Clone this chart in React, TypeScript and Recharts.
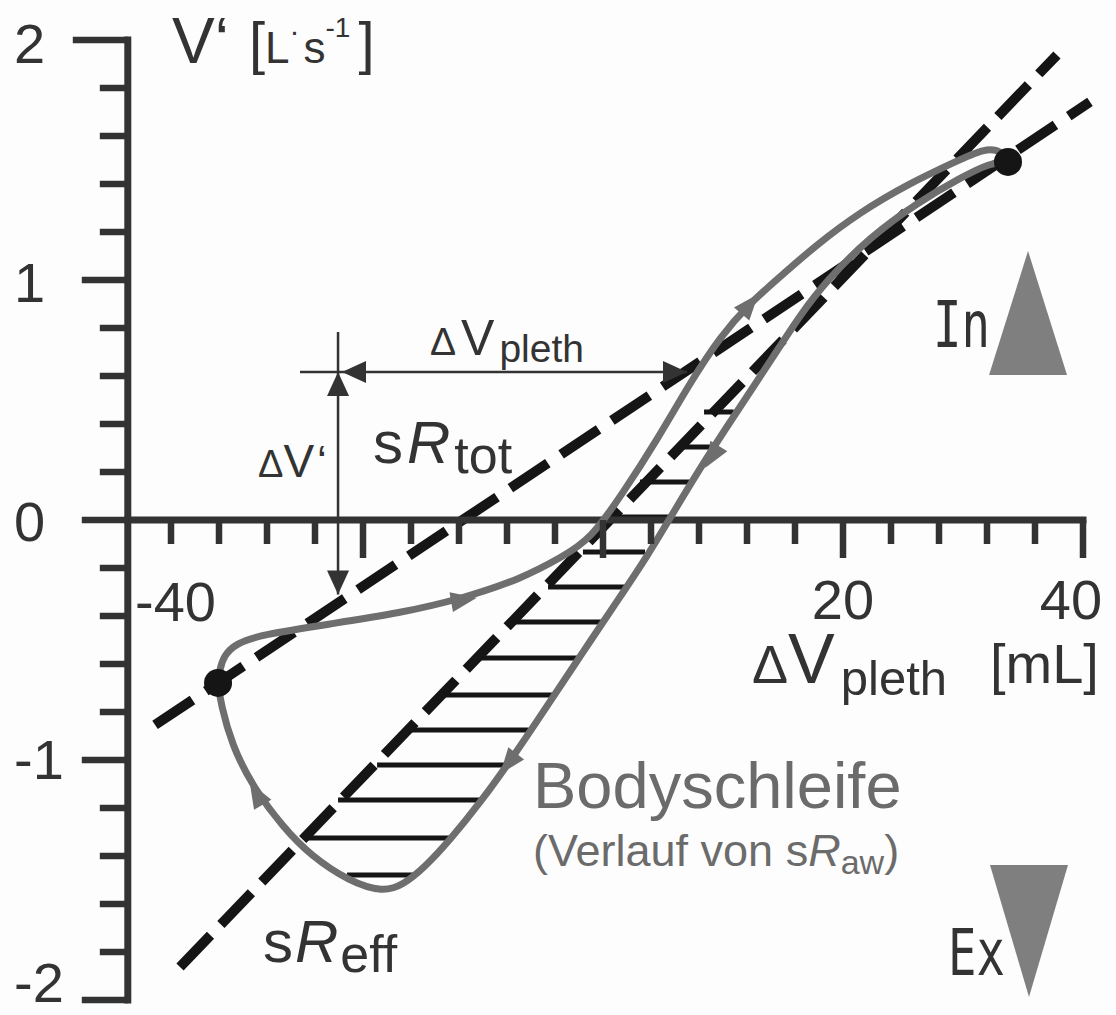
import React from 'react';
import { ComposedChart, Line, Scatter, XAxis, YAxis } from 'recharts';

type Pt = { x: number; y: number };

// axis ticks
const xTicks = [-36, -32, -28, -24, -20, -16, -12, -8, -4, 0, 4, 8, 12, 16, 20, 24, 28, 32, 36, 40];
const xMajorTicks = [-20, 0, 20, 40];
const yTicks = [-2, -1.8, -1.6, -1.4, -1.2, -1, -0.8, -0.6, -0.4, -0.2, 0, 0.2, 0.4, 0.6, 0.8, 1, 1.2, 1.4, 1.6, 1.8, 2];
const yMajorTicks = [-2, -1, 0, 1, 2];
const axisX = -39.6; // where the V' axis sits on the ΔV scale

// body loop, inspiration branch (left dot -> right dot)
const loopUp: Pt[] = [
  { x: -32.08, y: -0.679 },
  { x: -31.95, y: -0.625 },
  { x: -31.6, y: -0.565 },
  { x: -30.6, y: -0.515 },
  { x: -28.5, y: -0.478 },
  { x: -22.75, y: -0.433 },
  { x: -16.92, y: -0.388 },
  { x: -11.83, y: -0.329 },
  { x: -6.83, y: -0.246 },
  { x: -3.42, y: -0.154 },
  { x: -1.08, y: -0.083 },
  { x: 1.67, y: 0.113 },
  { x: 4.5, y: 0.333 },
  { x: 7.25, y: 0.571 },
  { x: 9.75, y: 0.763 },
  { x: 12.25, y: 0.904 },
  { x: 14.75, y: 1.013 },
  { x: 17.67, y: 1.142 },
  { x: 21.42, y: 1.283 },
  { x: 25.58, y: 1.404 },
  { x: 29.33, y: 1.492 },
  { x: 31.83, y: 1.55 },
  { x: 33.25, y: 1.538 },
  { x: 33.75, y: 1.492 },
];

// body loop, expiration branch (right dot -> left dot)
const loopDown: Pt[] = [
  { x: 33.75, y: 1.492 },
  { x: 32.25, y: 1.488 },
  { x: 29.75, y: 1.425 },
  { x: 26.17, y: 1.321 },
  { x: 22.25, y: 1.179 },
  { x: 18.67, y: 1.0 },
  { x: 16.42, y: 0.854 },
  { x: 14.17, y: 0.679 },
  { x: 11.42, y: 0.471 },
  { x: 8.67, y: 0.263 },
  { x: 5.83, y: 0.029 },
  { x: 3.75, y: -0.146 },
  { x: 1.25, y: -0.333 },
  { x: -1.67, y: -0.55 },
  { x: -4.5, y: -0.763 },
  { x: -7.5, y: -0.988 },
  { x: -10.25, y: -1.179 },
  { x: -12.75, y: -1.333 },
  { x: -14.83, y: -1.446 },
  { x: -16.67, y: -1.521 },
  { x: -18.33, y: -1.55 },
  { x: -21.08, y: -1.508 },
  { x: -24.42, y: -1.396 },
  { x: -26.67, y: -1.279 },
  { x: -29.17, y: -1.113 },
  { x: -30.92, y: -0.938 },
  { x: -31.83, y: -0.771 },
  { x: -32.08, y: -0.679 },
];

const sRtotLine: Pt[] = [{ x: -37.33, y: -0.854 }, { x: 40.58, y: 1.742 }];
const sReffLine: Pt[] = [{ x: -35.25, y: -1.8625 }, { x: 37.83, y: 1.9375 }];

// hatched area between sReff and the expiration branch
const hatchRows = [
  { y: 0.45, from: 8.42, to: 10.9 },
  { y: 0.304, from: 6.25, to: 9.1 },
  { y: 0.158, from: 3.08, to: 7.2 },
  { y: 0.0125, from: 0.75, to: 5.75 },
  { y: -0.133, from: -1.67, to: 3.5 },
  { y: -0.279, from: -4.58, to: 1.8 },
  { y: -0.425, from: -7.5, to: 0.0 },
  { y: -0.575, from: -10.83, to: -2.1 },
  { y: -0.729, from: -13.33, to: -4.1 },
  { y: -0.875, from: -16.08, to: -6.2 },
  { y: -1.021, from: -18.83, to: -8.2 },
  { y: -1.167, from: -22.08, to: -10.2 },
  { y: -1.325, from: -24.58, to: -12.7 },
  { y: -1.479, from: -21.33, to: -15.6 },
];

const endPoints: Pt[] = [{ x: -32.08, y: -0.679 }, { x: 33.75, y: 1.492 }];

const loopArrows = [
  { x: -11.58, y: -0.333, angle: -10 },
  { x: 12.25, y: 0.9, angle: -50 },
  { x: 9.08, y: 0.2625, angle: 122 },
  { x: -7.9, y: -1.015, angle: 128 },
  { x: -28.9, y: -1.14, angle: -120 },
];

// ΔV' and ΔVpleth measuring arrows
const dVLine: Pt[] = [{ x: -22.08, y: 0.783 }, { x: -22.08, y: -0.31 }];
const dVplethLine: Pt[] = [{ x: -25.25, y: 0.617 }, { x: 7.0, y: 0.617 }];
const measureHeads = [
  { x: -22.08, y: 0.617, angle: -90 },
  { x: -21.75, y: 0.617, angle: 180 },
  { x: -22.08, y: -0.31, angle: 90 },
  { x: 7.0, y: 0.617, angle: 0 },
];

const phaseMarks = [
  { x: 35.42, y: 0.8625, dir: 'up' },
  { x: 35.5, y: -1.7125, dir: 'down' },
];

const INK = '#333333';
const BLACK = '#151515';
const LOOP = '#6e6e6e';
const FONT = '"Liberation Sans", Arial, sans-serif';

const xTickData = xTicks.map((v) => ({ x: v, y: 0, major: xMajorTicks.includes(v) }));
const yTickData = yTicks.map((v) => ({ x: axisX, y: v, major: yMajorTicks.includes(v) }));

const XTick = (props: any) => {
  const { cx, cy, payload } = props;
  const len = payload.major ? 38 : 24;
  return <line x1={cx} y1={cy} x2={cx} y2={cy + len} stroke={INK} strokeWidth={6.5} />;
};

const YTick = (props: any) => {
  const { cx, cy, payload } = props;
  const len = payload.y === 2 ? 55 : payload.major ? 46 : 28;
  return <line x1={cx - len} y1={cy} x2={cx} y2={cy} stroke={INK} strokeWidth={6.5} />;
};

const LoopArrow = (props: any) => {
  const { cx, cy, payload } = props;
  return (
    <polygon
      points="13,0 -13,-10 -13,10"
      transform={`translate(${cx},${cy}) rotate(${payload.angle})`}
      fill={LOOP}
    />
  );
};

const MeasureHead = (props: any) => {
  const { cx, cy, payload } = props;
  return (
    <polygon
      points="0,0 -24,-11 -24,11"
      transform={`translate(${cx},${cy}) rotate(${payload.angle})`}
      fill={INK}
    />
  );
};

const Dot = (props: any) => <circle cx={props.cx} cy={props.cy} r={14} fill={BLACK} />;

const PhaseMark = (props: any) => {
  const { cx, cy, payload } = props;
  const pts =
    payload.dir === 'up'
      ? `${cx},${cy - 62} ${cx - 39},${cy + 62} ${cx + 39},${cy + 62}`
      : `${cx - 39},${cy - 66} ${cx + 39},${cy - 66} ${cx},${cy + 66}`;
  return <polygon points={pts} fill="#7f7f7f" />;
};

export default function App() {
  return (
    <div style={{ position: 'absolute', left: 0, top: 0, width: 1116, height: 1015, background: '#fdfdfd' }}>
      <ComposedChart width={1116} height={1015} margin={{ top: 40, right: 9, bottom: 15, left: 63 }}>
        <XAxis type="number" dataKey="x" domain={[-45, 42]} hide />
        <YAxis type="number" dataKey="y" domain={[-2, 2]} hide />

        {hatchRows.map((r, i) => (
          <Line
            key={`hatch-${i}`}
            data={[{ x: r.from, y: r.y }, { x: r.to, y: r.y }]}
            dataKey="y"
            type="linear"
            stroke={BLACK}
            strokeWidth={5}
            dot={false}
            activeDot={false}
            isAnimationActive={false}
          />
        ))}

        <Line data={sRtotLine} dataKey="y" type="linear" stroke={BLACK} strokeWidth={10}
          strokeDasharray="45 16" dot={false} activeDot={false} isAnimationActive={false} />
        <Line data={sReffLine} dataKey="y" type="linear" stroke={BLACK} strokeWidth={10}
          strokeDasharray="44 15" dot={false} activeDot={false} isAnimationActive={false} />

        <Line data={[{ x: axisX, y: 0 }, { x: 40, y: 0 }]} dataKey="y" type="linear" stroke={INK}
          strokeWidth={7} strokeLinecap="square" dot={false} activeDot={false} isAnimationActive={false} />
        <Line data={[{ x: axisX, y: 2 }, { x: axisX, y: -2 }]} dataKey="y" type="linear" stroke={INK}
          strokeWidth={7} strokeLinecap="square" dot={false} activeDot={false} isAnimationActive={false} />
        <Scatter data={xTickData} shape={XTick} isAnimationActive={false} />
        <Scatter data={yTickData} shape={YTick} isAnimationActive={false} />

        <Line data={dVLine} dataKey="y" type="linear" stroke={INK} strokeWidth={2.5}
          dot={false} activeDot={false} isAnimationActive={false} />
        <Line data={dVplethLine} dataKey="y" type="linear" stroke={INK} strokeWidth={2.5}
          dot={false} activeDot={false} isAnimationActive={false} />
        <Scatter data={measureHeads} shape={MeasureHead} isAnimationActive={false} />

        <Line data={loopUp} dataKey="y" type="basis" stroke={LOOP} strokeWidth={7}
          dot={false} activeDot={false} isAnimationActive={false} />
        <Line data={loopDown} dataKey="y" type="basis" stroke={LOOP} strokeWidth={7}
          dot={false} activeDot={false} isAnimationActive={false} />
        <Scatter data={loopArrows} shape={LoopArrow} isAnimationActive={false} />

        <Scatter data={endPoints} shape={Dot} isAnimationActive={false} />
        <Scatter data={phaseMarks} shape={PhaseMark} isAnimationActive={false} />
      </ComposedChart>

      <svg width={1116} height={1015} style={{ position: 'absolute', left: 0, top: 0, pointerEvents: 'none' }}
        fontFamily={FONT} fill={INK}>
        {/* y tick labels */}
        <text x={14} y={63} fontSize={56}>2</text>
        <text x={14} y={302} fontSize={56}>1</text>
        <text x={14} y={541} fontSize={56}>0</text>
        <text x={14} y={779} fontSize={56}>-1</text>
        <text x={14} y={1002} fontSize={56}>-2</text>

        {/* y axis title */}
        <text x={172} y={63}>
          <tspan fontSize={64}>V‘</tspan>
          <tspan fontSize={58} dx={20}>[</tspan>
          <tspan fontSize={44}>L</tspan>
          <tspan fontSize={30} dy={-22}>·</tspan>
          <tspan fontSize={44} dy={22} dx={4}>s</tspan>
          <tspan fontSize={28} dy={-26}>-1</tspan>
          <tspan fontSize={58} dy={26} dx={8}>]</tspan>
        </text>

        {/* x tick labels */}
        <text x={135} y={621} fontSize={56}>-40</text>
        <text x={843} y={619} fontSize={56} textAnchor="middle">20</text>
        <text x={1071} y={619} fontSize={56} textAnchor="middle">40</text>

        {/* x axis title */}
        <text x={752} y={683}>
          <tspan fontSize={54}>Δ</tspan>
          <tspan fontSize={70}>V</tspan>
          <tspan fontSize={49} dy={12} dx={6}>pleth</tspan>
        </text>
        <text x={990} y={683} fontSize={56}>[mL]</text>

        {/* measuring labels */}
        <text x={430} y={355}>
          <tspan fontSize={39}>Δ</tspan>
          <tspan fontSize={50} dx={5}>V</tspan>
          <tspan fontSize={39} dy={7} dx={5}>pleth</tspan>
        </text>
        <text x={258} y={477}>
          <tspan fontSize={38}>Δ</tspan>
          <tspan fontSize={46}>V</tspan>
          <tspan fontSize={44} dx={3}>‘</tspan>
        </text>

        <text x={373} y={463}>
          <tspan fontSize={60}>s</tspan>
          <tspan fontSize={60} fontStyle="italic" dx={4}>R</tspan>
          <tspan fontSize={52} dy={10} dx={4}>tot</tspan>
        </text>
        <text x={263} y={962}>
          <tspan fontSize={60}>s</tspan>
          <tspan fontSize={60} fontStyle="italic" dx={2}>R</tspan>
          <tspan fontSize={52} dy={10} dx={2}>eff</tspan>
        </text>

        <text x={533} y={808} fontSize={65} fill="#6b6b6b">Bodyschleife</text>
        <text x={533} y={866} fill="#6b6b6b">
          <tspan fontSize={45}>(Verlauf von s</tspan>
          <tspan fontSize={45} fontStyle="italic">R</tspan>
          <tspan fontSize={34} dy={8}>aw</tspan>
          <tspan fontSize={45} dy={-8}>)</tspan>
        </text>

        <text x={933} y={347} fontSize={64} fontFamily='"DejaVu Sans Mono", monospace'
          textLength={57} lengthAdjust="spacingAndGlyphs">In</text>
        <text x={948} y={975} fontSize={64} fontFamily='"DejaVu Sans Mono", monospace'
          textLength={57} lengthAdjust="spacingAndGlyphs">Ex</text>
      </svg>
    </div>
  );
}
